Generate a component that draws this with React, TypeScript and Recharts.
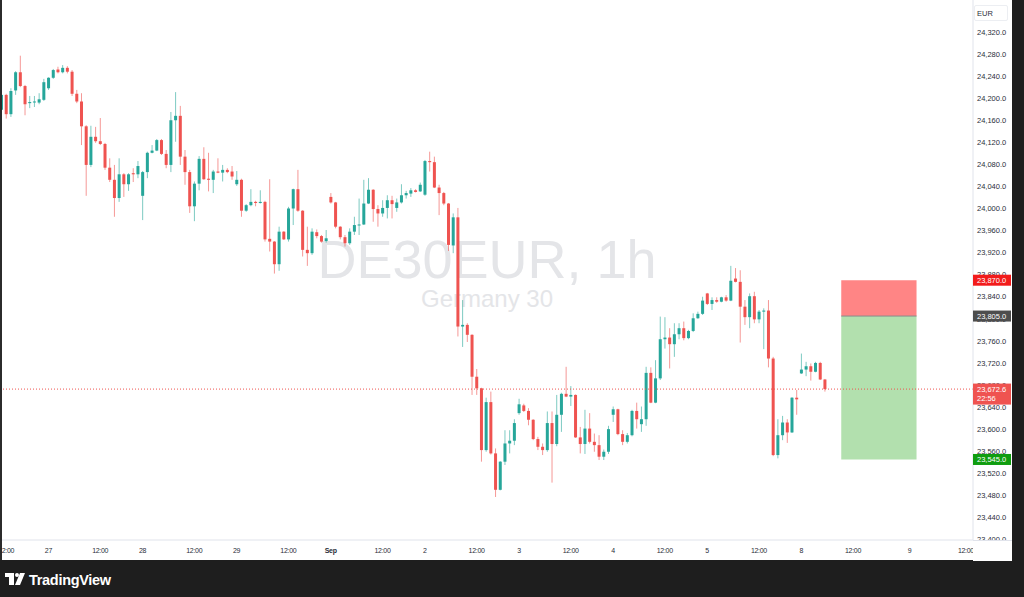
import { ComposedChart, Bar, XAxis, YAxis, ReferenceLine, ReferenceArea } from 'recharts'

// hourly DE30EUR candles, 26 Aug 11:00 .. 8 Sep
const opens = [
  24179, 24206, 24171, 24214, 24247, 24222, 24191, 24193, 24192, 24197,
  24218, 24237, 24252, 24247, 24255, 24248, 24208, 24194, 24149, 24079, 24130, 24122, 24117, 24074, 24052, 24019, 24062, 24044, 24064, 24062,
  24023, 24066, 24101, 24105, 24124, 24099, 24079, 24160, 24168, 24094, 24066, 24004, 24045, 24090, 24054, 24052, 24067, 24065, 24070, 24067,
  24044, 24052, 23996, 24006, 24012, 24010, 24012, 23945, 23940, 23899, 23958, 23944, 24000, 24035, 23996, 23925, 23919, 23957, 23950, 23941,
  24021, 24011, 23967, 23948, 23937, 23958, 23970, 23971, 24009, 24034, 23999, 23991, 24001, 24015, 24001, 24011, 24024, 24027, 24033, 24031,
  24025, 24086, 24084, 24038, 24028, 24009, 23933, 23984, 23786, 23789, 23771, 23695, 23674, 23562, 23649, 23556, 23490, 23541, 23574, 23579,
  23629, 23643, 23633, 23617, 23582, 23568, 23562, 23611, 23573, 23626, 23664, 23659, 23662, 23585, 23573, 23601, 23577, 23571, 23550, 23559,
  23626, 23636, 23591, 23577, 23589, 23633, 23609, 23618, 23702, 23648, 23692, 23763, 23766, 23754, 23772, 23783, 23765, 23778, 23801, 23809,
  23846, 23827, 23834, 23831, 23839, 23833, 23873, 23867, 23822, 23803, 23841, 23799, 23813, 23815, 23728, 23553, 23589, 23612, 23594, 23657,
  23701, 23708, 23714, 23704, 23720, 23690,
]
const highs = [
  24209, 24208, 24218, 24249, 24277, 24224, 24204, 24204, 24209, 24235,
  24238, 24253, 24257, 24260, 24258, 24251, 24215, 24209, 24151, 24150, 24148, 24164, 24119, 24091, 24079, 24091, 24064, 24064, 24073, 24086,
  24068, 24103, 24115, 24126, 24126, 24106, 24175, 24211, 24186, 24106, 24070, 24049, 24095, 24111, 24101, 24070, 24091, 24079, 24073, 24077,
  24068, 24054, 24008, 24035, 24014, 24033, 24014, 24053, 23941, 23967, 23959, 24003, 24036, 24070, 23997, 23967, 23964, 23962, 23952, 23961,
  24028, 24012, 23968, 23952, 23964, 23985, 24018, 24052, 24055, 24035, 24006, 24015, 24024, 24023, 24018, 24044, 24032, 24037, 24035, 24047,
  24088, 24103, 24094, 24043, 24030, 24010, 23991, 24001, 23834, 23792, 23772, 23709, 23675, 23657, 23668, 23565, 23542, 23598, 23598, 23618,
  23655, 23646, 23638, 23618, 23586, 23574, 23632, 23632, 23662, 23666, 23713, 23678, 23663, 23604, 23635, 23629, 23592, 23589, 23563, 23606,
  23641, 23637, 23598, 23593, 23635, 23648, 23641, 23713, 23712, 23725, 23804, 23803, 23783, 23792, 23792, 23795, 23780, 23810, 23813, 23840,
  23847, 23839, 23839, 23840, 23843, 23896, 23892, 23888, 23834, 23846, 23849, 23816, 23819, 23834, 23731, 23618, 23624, 23618, 23658, 23671,
  23737, 23722, 23719, 23722, 23722, 23691,
]
const lows = [
  24175, 24163, 24166, 24206, 24220, 24169, 24182, 24184, 24189, 24195,
  24215, 24235, 24245, 24245, 24245, 24204, 24191, 24115, 24023, 24075, 24119, 24115, 24070, 24048, 23985, 24012, 24021, 24032, 24048, 24055,
  23979, 24055, 24100, 24104, 24097, 24073, 24066, 24121, 24079, 24043, 23992, 23977, 24033, 24052, 24031, 24028, 24064, 24049, 24064, 24052,
  24041, 23985, 23994, 24004, 24004, 24009, 23940, 23922, 23882, 23887, 23943, 23940, 23970, 23994, 23913, 23896, 23916, 23946, 23938, 23938,
  24009, 23964, 23944, 23931, 23934, 23952, 23952, 23970, 24008, 23976, 23967, 23985, 23982, 23982, 23994, 24009, 24018, 24021, 24029, 24030,
  24023, 24067, 24037, 23988, 24006, 23923, 23919, 23768, 23749, 23758, 23662, 23662, 23541, 23559, 23554, 23477, 23489, 23535, 23556, 23571,
  23626, 23631, 23607, 23580, 23562, 23553, 23559, 23503, 23569, 23595, 23658, 23642, 23584, 23556, 23555, 23574, 23559, 23544, 23544, 23555,
  23613, 23589, 23571, 23574, 23587, 23601, 23595, 23606, 23647, 23647, 23689, 23746, 23710, 23731, 23763, 23761, 23763, 23776, 23800, 23807,
  23825, 23816, 23829, 23830, 23831, 23832, 23866, 23757, 23789, 23783, 23792, 23792, 23745, 23712, 23551, 23547, 23580, 23575, 23593, 23626,
  23700, 23696, 23688, 23703, 23689, 23668,
]
const closes = [
  24206, 24171, 24213, 24247, 24222, 24189, 24193, 24194, 24198, 24229,
  24237, 24251, 24247, 24255, 24248, 24208, 24194, 24149, 24079, 24130, 24122, 24117, 24074, 24052, 24019, 24062, 24044, 24062, 24062, 24077,
  24066, 24101, 24105, 24124, 24099, 24079, 24160, 24168, 24094, 24066, 24004, 24045, 24090, 24053, 24052, 24067, 24065, 24070, 24066, 24058,
  24052, 23996, 24006, 24012, 24010, 24012, 23944, 23940, 23899, 23958, 23944, 24000, 24035, 23996, 23925, 23919, 23958, 23950, 23940, 23946,
  24011, 23967, 23948, 23937, 23958, 23970, 23971, 24009, 24034, 23999, 23991, 24001, 24015, 24008, 24011, 24024, 24028, 24033, 24030, 24043,
  24086, 24084, 24038, 24028, 24009, 23934, 23984, 23786, 23789, 23771, 23695, 23674, 23562, 23649, 23556, 23490, 23541, 23574, 23579, 23611,
  23645, 23633, 23617, 23582, 23568, 23562, 23611, 23573, 23626, 23664, 23659, 23662, 23585, 23573, 23601, 23577, 23571, 23550, 23559, 23600,
  23636, 23591, 23577, 23589, 23633, 23618, 23618, 23702, 23648, 23692, 23763, 23766, 23754, 23772, 23783, 23765, 23778, 23801, 23809, 23833,
  23827, 23834, 23831, 23839, 23833, 23869, 23867, 23822, 23803, 23841, 23799, 23813, 23815, 23728, 23553, 23589, 23612, 23594, 23657, 23654,
  23708, 23714, 23704, 23720, 23690, 23672.6,
]

// time scale: bar slot -> label (future slots have no candles)
const timeTicks = [1, 10, 21, 30, 41, 50, 61, 70, 81, 90, 101, 110, 121, 130, 141, 150, 161, 170, 181, 193, 205]
const timeLabels = ['12:00', '27', '12:00', '28', '12:00', '29', '12:00', 'Sep', '12:00', '2', '12:00', '3', '12:00', '4', '12:00', '5', '12:00', '8', '12:00', '9', '12:00']
const priceTicks = [
  23400, 23440, 23480, 23520, 23560, 23600, 23640, 23680, 23720, 23760, 23800, 23840,
  23880, 23920, 23960, 24000, 24040, 24080, 24120, 24160, 24200, 24240, 24280, 24320,
]

const lastPrice = 23672.6
const countdown = '22:56'
const stopPrice = 23870
const entryPrice = 23805
const targetPrice = 23545
const positionFrom = 179
const positionTo = 195

const tags = [
  { price: stopPrice, bg: '#f21b1b' },
  { price: entryPrice, bg: '#4d4d4d' },
  { price: targetPrice, bg: '#0f9d0f' },
  { price: lastPrice, bg: '#ef5350', sub: countdown },
]

const SLOTS = 207
const UP = '#26a69a'
const DOWN = '#ef5350'
const FONT = '"Liberation Sans", Arial, sans-serif'

const rows = Array.from({ length: SLOTS }, (_, i) =>
  i < opens.length
    ? { i, o: opens[i], h: highs[i], l: lows[i], c: closes[i], range: [lows[i], highs[i]] }
    : { i, range: null }
)

const fmt = (v: number) =>
  v.toLocaleString('en-US', { minimumFractionDigits: 1, maximumFractionDigits: 1 })

const Candle = (props: any) => {
  const { x, y, width, height, payload } = props
  if (!payload || payload.o == null || x == null) return null
  const top = Math.min(y, y + height)
  const bottom = Math.max(y, y + height)
  const span = payload.h - payload.l
  const toY = (v: number) => (span > 0 ? top + ((payload.h - v) / span) * (bottom - top) : top)
  const color = payload.c >= payload.o ? UP : DOWN
  const bTop = toY(Math.max(payload.o, payload.c))
  const bBot = toY(Math.min(payload.o, payload.c))
  const cx = x + width / 2
  return (
    <g>
      <line x1={cx} x2={cx} y1={top} y2={bottom} stroke={color} strokeOpacity={0.6} />
      <rect x={x} y={bTop} width={width} height={Math.max(bBot - bTop, 1)} fill={color} />
    </g>
  )
}

// price axis: plain labels first, coloured tags last so they sit on top
const PriceTick = (props: any) => {
  const { x, y, payload } = props
  const v = payload.value
  const tag = tags.find((t) => t.price === v)
  if (tag) {
    return (
      <g>
        <rect x={x - 4} y={y - 5.5} width={38} height={tag.sub ? 21 : 11} fill={tag.bg} />
        <text x={x} y={y + 2.7} fontSize={7.5} fill="#fff" fontFamily={FONT}>{fmt(v)}</text>
        {tag.sub && (
          <text x={x} y={y + 12.2} fontSize={7.5} fill="#fff" fontFamily={FONT}>{tag.sub}</text>
        )}
      </g>
    )
  }
  return (
    <text x={x} y={y + 2.7} fontSize={7.5} fill="#2a2e39" fontFamily={FONT}>{fmt(v)}</text>
  )
}

const TimeTick = (props: any) => {
  const { x, y, payload } = props
  const label = timeLabels[timeTicks.indexOf(payload.value)]
  return (
    <text
      x={x}
      y={y + 5}
      textAnchor="middle"
      fontSize={7}
      letterSpacing={-0.3}
      fontWeight={label === 'Sep' ? 700 : 400}
      fill="#2a2e39"
      fontFamily={FONT}
    >
      {label}
    </text>
  )
}

export default function App() {
  return (
    <div style={{ position: 'fixed', left: 0, top: 0, width: 1024, height: 597, background: '#1e1e1e', overflow: 'hidden' }}>
      <div style={{ position: 'absolute', left: 0, top: 0, width: 1012, height: 560, background: '#fff' }} />
      <svg style={{ position: 'absolute', left: 0, top: 0 }} width={973} height={540}>
        <text x={487} y={278} textAnchor="middle" fontSize={54} fill="#e4e5e8" fontFamily={FONT}>DE30EUR, 1h</text>
        <text x={487} y={307} textAnchor="middle" fontSize={24} fill="#e4e5e8" fontFamily={FONT}>Germany 30</text>
      </svg>
      <div style={{ position: 'absolute', left: -1, top: 0 }}>
        <ComposedChart width={1014} height={560} data={rows} margin={{ top: 0, right: 0, bottom: 0, left: 0 }}>
          <XAxis
            dataKey="i"
            type="category"
            ticks={timeTicks}
            interval={0}
            height={20}
            tickLine={false}
            axisLine={{ stroke: '#e0e3eb' }}
            tick={<TimeTick />}
          />
          <YAxis
            orientation="right"
            type="number"
            domain={[23399, 24378]}
            allowDataOverflow
            ticks={[...priceTicks, ...tags.map((t) => t.price)]}
            interval={0}
            width={40}
            tickLine={false}
            tickSize={2}
            tickMargin={2}
            axisLine={{ stroke: '#e0e3eb' }}
            tick={<PriceTick />}
          />
          <ReferenceLine y={lastPrice} stroke={DOWN} strokeDasharray="1 2" />
          <ReferenceArea x1={positionFrom} x2={positionTo - 1} y1={entryPrice} y2={stopPrice} fill="#ff8585" fillOpacity={1} stroke="none" />
          <ReferenceArea x1={positionFrom} x2={positionTo - 1} y1={targetPrice} y2={entryPrice} fill="#b2e0ae" fillOpacity={1} stroke="none" />
          <ReferenceLine
            segment={[{ x: positionFrom, y: entryPrice }, { x: positionTo, y: entryPrice }]}
            position="start"
            stroke="#8a8a8a"
          />
          <Bar dataKey="range" barSize={3} shape={<Candle />} isAnimationActive={false} />
        </ComposedChart>
      </div>
      <div style={{ position: 'absolute', left: 973, top: 540, width: 39, height: 20, background: '#fff', borderTop: '1px solid #e0e3eb' }} />
      <div
        style={{
          position: 'absolute', left: 974, top: 5, width: 34, height: 16, border: '1px solid #eceef2',
          borderRadius: 2, fontSize: 7.5, fontFamily: FONT, color: '#2a2e39', lineHeight: '16px', paddingLeft: 2,
          boxSizing: 'border-box', background: '#fff',
        }}
      >
        EUR
      </div>
      <div style={{ position: 'absolute', left: 0, top: 0, width: 2, height: 560, background: '#2b2b2b' }} />
      <svg style={{ position: 'absolute', left: 0, top: 560 }} width={200} height={37}>
        <rect x={5} y={13} width={9} height={4} fill="#fff" />
        <rect x={9} y={13} width={5} height={12} fill="#fff" />
        <circle cx={17} cy={15} r={2} fill="#fff" />
        <polygon points="20,13 25,13 20,25 15,25" fill="#fff" />
        <text x={29} y={25} fontSize={14.5} fontWeight={700} letterSpacing={-0.3} fill="#fff" fontFamily={FONT}>TradingView</text>
      </svg>
    </div>
  )
}
